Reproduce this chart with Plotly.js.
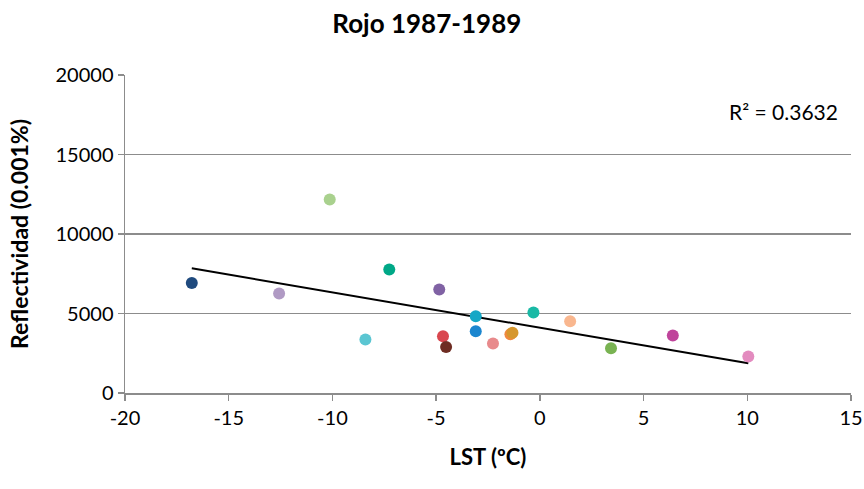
<!DOCTYPE html>
<html>
<head>
<meta charset="utf-8">
<script src="https://cdn.plot.ly/plotly-3.0.1.min.js"></script>
<style>html,body{margin:0;padding:0;background:#fff;}#chart{width:864px;height:489px;}</style>
</head>
<body>
<div id="chart"></div>
<script>
// LST (ºC) per point
const lst = [-16.78, -12.57, -10.13, -7.26, -4.85, -8.41, -4.67, -4.52, -3.09, -3.09, -2.26, -1.42, -1.32, -0.31, 1.46, 3.43, 6.41, 10.05];
// Reflectividad (0.001%) per point
const refl = [6925, 6258, 12170, 7767, 6509, 3365, 3572, 2899, 4830, 3887, 3113, 3700, 3790, 5063, 4516, 2818, 3616, 2296];
const pointColors = ['#1f4a7e', '#b09ac4', '#a9d18e', '#00a887', '#8062a4', '#5bc6d2', '#d9474f', '#6e2c22', '#14a7c6', '#1b86cf', '#e88a8c', '#f0893f', '#d6972e', '#19b9a5', '#f9b78f', '#79b352', '#bf449b', '#e38bbf'];
const xTicks = [-20, -15, -10, -5, 0, 5, 10, 15];
const yTicks = [0, 5000, 10000, 15000, 20000];
const r2Label = 'R² = 0.3632';

// least-squares trendline
const n = lst.length;
const mx = lst.reduce((a, b) => a + b, 0) / n;
const my = refl.reduce((a, b) => a + b, 0) / n;
let sxy = 0, sxx = 0;
for (let i = 0; i < n; i++) { sxy += (lst[i] - mx) * (refl[i] - my); sxx += (lst[i] - mx) ** 2; }
const slope = sxy / sxx, icpt = my - slope * mx;
const xMin = Math.min(...lst), xMax = Math.max(...lst);
const trendX = [xMin, xMax];
const trendY = trendX.map(v => icpt + slope * v);

const font = 'Lato, "Open Sans", sans-serif';
const grid = '#8c8c8c';

Plotly.newPlot('chart', [
  {x: trendX, y: trendY, mode: 'lines', type: 'scatter', line: {color: '#000', width: 2}, hoverinfo: 'skip'},
  {x: lst, y: refl, mode: 'markers', type: 'scatter', marker: {color: pointColors, size: 12, line: {width: 0}}}
], {
  width: 864, height: 489,
  margin: {l: 125, r: 13, t: 75, b: 96},
  paper_bgcolor: '#fff', plot_bgcolor: '#fff',
  showlegend: false,
  font: {family: font, size: 19, color: '#000'},
  title: {text: '<b>Rojo 1987-1989</b>', x: 0.494, xanchor: 'center', y: 0.952, yanchor: 'middle', font: {family: font, size: 26, color: '#000'}},
  xaxis: {
    range: [-20, 15], tickvals: xTicks, ticktext: xTicks.map(String),
    showgrid: false, zeroline: false, showline: true, linecolor: grid, linewidth: 1.5,
    ticks: 'outside', ticklen: 6, tickcolor: grid, tickwidth: 1.5,
    tickfont: {family: font, size: 20, color: '#000'},
    title: {text: '<b>LST (ºC)</b>', font: {family: font, size: 22, color: '#000'}, standoff: 22}
  },
  yaxis: {
    range: [0, 20000], tickvals: yTicks, ticktext: yTicks.map(String),
    showgrid: true, gridcolor: grid, gridwidth: 1.5, zeroline: false,
    showline: true, linecolor: grid, linewidth: 1.5,
    ticks: 'outside', ticklen: 6, tickcolor: grid, tickwidth: 1.5,
    tickfont: {family: font, size: 20, color: '#000'},
    title: {text: '<b>Reflectividad (0.001%)</b>', font: {family: font, size: 23, color: '#000'}, standoff: 20}
  },
  annotations: [{
    text: r2Label, xref: 'paper', yref: 'paper', x: 0.985, y: 0.886, xanchor: 'right', yanchor: 'middle',
    showarrow: false, font: {family: font, size: 21, color: '#000'}
  }]
}, {displayModeBar: false, staticPlot: true});
</script>
</body>
</html>
